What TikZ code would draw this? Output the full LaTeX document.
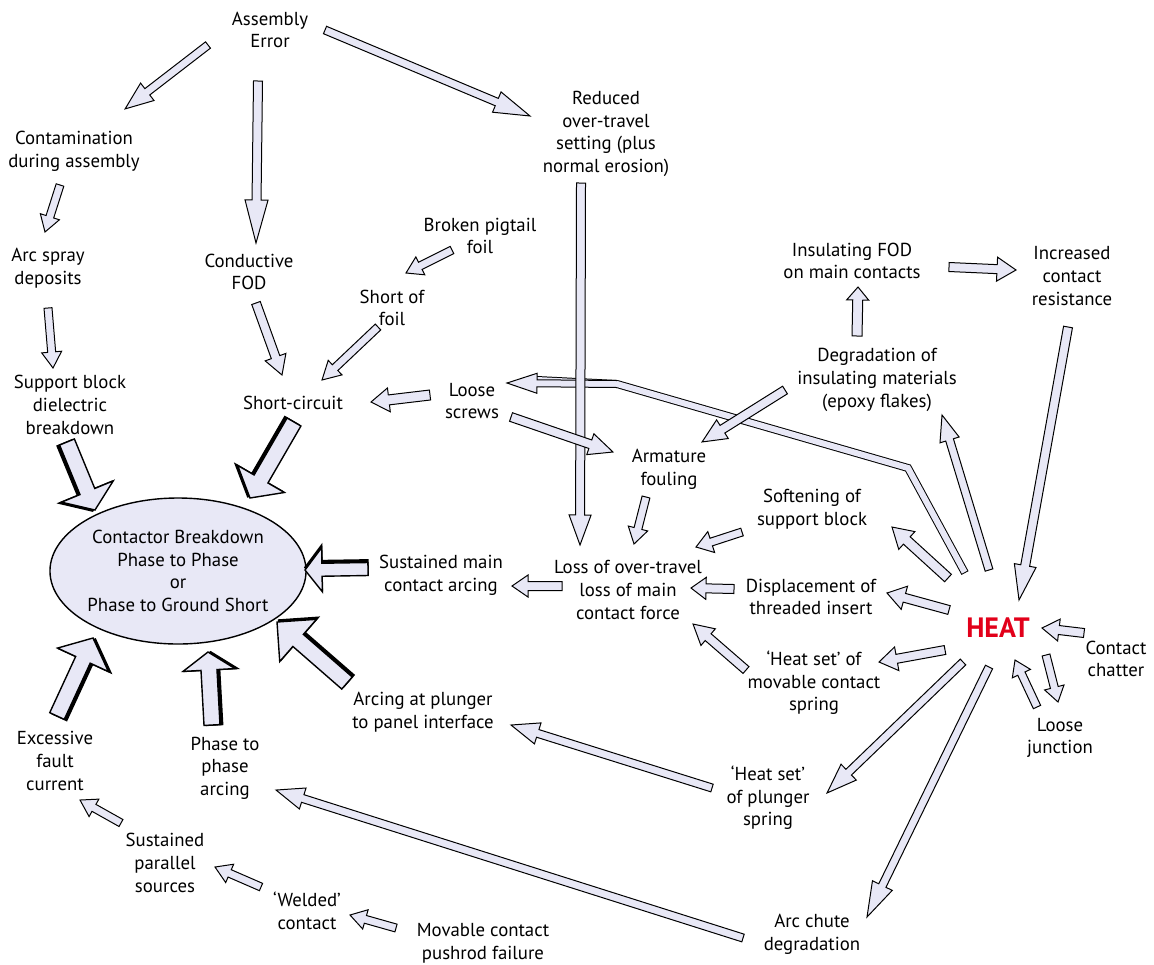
\documentclass[tikz,border=0pt]{standalone}
\usepackage{fontspec}
\setmainfont{PT Sans}
\usetikzlibrary{calc,shapes.geometric}

\definecolor{lav}{RGB}{232,232,246}
\definecolor{heatred}{RGB}{226,0,26}

% --- end points, angle and length of a block arrow ---
\newcommand\getends[2]{%
  \path #1; \pgfgetlastxy{\ax}{\ay}%
  \path #2; \pgfgetlastxy{\bx}{\by}%
  \pgfmathsetmacro\arrang{atan2(\by-\ay,\bx-\ax)}%
  \pgfmathsetmacro\arrlen{veclen(\bx-\ax,\by-\ay)}}

% --- block arrow: {shaft half width}{head half width}{head length}{from}{to} ---
\newcommand\fatarrow[5]{%
  \getends{#4}{#5}%
  \begin{scope}[shift={(\ax,\ay)}, rotate=\arrang]
    \draw[arrbody] (0pt,{#1*.5pt}) -- ({\arrlen pt-#3*.5pt},{#1*.5pt}) -- ({\arrlen pt-#3*.5pt},{#2*.5pt})
      -- (\arrlen pt,0pt) -- ({\arrlen pt-#3*.5pt},{-#2*.5pt}) -- ({\arrlen pt-#3*.5pt},{-#1*.5pt})
      -- (0pt,{-#1*.5pt}) -- cycle;
  \end{scope}}

% --- heavy block arrow with a dark edge on its right side ---
\newcommand\boldarrow[5]{%
  \getends{#4}{#5}%
  \begin{scope}[shift={(\ax,\ay)}, rotate=\arrang]
    \filldraw[black, line width=.8pt, yshift=-1.3pt] (0pt,{#1*.5pt}) -- ({\arrlen pt-#3*.5pt},{#1*.5pt}) -- ({\arrlen pt-#3*.5pt},{#2*.5pt})
      -- (\arrlen pt,0pt) -- ({\arrlen pt-#3*.5pt},{-#2*.5pt}) -- ({\arrlen pt-#3*.5pt},{-#1*.5pt})
      -- (0pt,{-#1*.5pt}) -- cycle;
    \draw[arrbody, line width=.7pt] (0pt,{#1*.5pt}) -- ({\arrlen pt-#3*.5pt},{#1*.5pt}) -- ({\arrlen pt-#3*.5pt},{#2*.5pt})
      -- (\arrlen pt,0pt) -- ({\arrlen pt-#3*.5pt},{-#2*.5pt}) -- ({\arrlen pt-#3*.5pt},{-#1*.5pt})
      -- (0pt,{-#1*.5pt}) -- cycle;
  \end{scope}}

% --- arrow head with an open back, ends a bent shaft ---
\newcommand\openhead[5]{%
  \getends{#4}{#5}%
  \begin{scope}[shift={(\ax,\ay)}, rotate=\arrang]
    \fill[lav] (0pt,{#1*.5pt}) -- ({\arrlen pt-#3*.5pt},{#1*.5pt}) -- ({\arrlen pt-#3*.5pt},{#2*.5pt})
      -- (\arrlen pt,0pt) -- ({\arrlen pt-#3*.5pt},{-#2*.5pt}) -- ({\arrlen pt-#3*.5pt},{-#1*.5pt})
      -- (0pt,{-#1*.5pt}) -- cycle;
    \draw[line width=.5pt] (0pt,{#1*.5pt}) -- ({\arrlen pt-#3*.5pt},{#1*.5pt}) -- ({\arrlen pt-#3*.5pt},{#2*.5pt})
      -- (\arrlen pt,0pt) -- ({\arrlen pt-#3*.5pt},{-#2*.5pt}) -- ({\arrlen pt-#3*.5pt},{-#1*.5pt})
      -- (0pt,{-#1*.5pt});
  \end{scope}}

\begin{document}
\begin{tikzpicture}[x=0.5pt, y=-0.5pt, line join=miter,
  lbl/.style={align=center, inner sep=0pt, font=\fontsize{9.4}{11.3}\selectfont},
  arrbody/.style={draw=black, fill=lav, line width=.5pt}]

\useasboundingbox (0,0) rectangle (1154,964);

% --- causes and effects ---
\node[lbl] (asm) at (270,30) {Assembly\\Error};
\node[lbl] (contam) at (74,151) {Contamination\\during assembly};
\node[lbl] (spray) at (48,268) {Arc spray\\deposits};
\node[lbl] (support) at (70,405) {Support block\\dielectric\\breakdown};
\node[lbl] (cfod) at (249,272) {Conductive\\FOD};
\node[lbl] (short) at (293,403) {Short-circuit};
\node[lbl] (pigtail) at (480,236) {Broken pigtail\\foil};
\node[lbl] (foil) at (392,308) {Short of\\foil};
\node[lbl] (reduced) at (606,134) {Reduced\\over-travel\\setting (plus\\normal erosion)};
\node[lbl] (ifod) at (852,261) {Insulating FOD\\on main contacts};
\node[lbl] (resist) at (1072,276) {Increased\\contact\\resistance};
\node[lbl] (degrad) at (877,380) {Degradation of\\insulating materials\\(epoxy flakes)};
\node[lbl] (screws) at (472,401) {Loose\\screws};
\node[lbl] (arm) at (669,469) {Armature\\fouling};
\node[lbl] (soft) at (812,509) {Softening of\\support block};
\node[lbl] (loss) at (628,590) {Loss of over-travel\\loss of main\\contact force};
\node[lbl] (displ) at (811,597) {Displacement of\\threaded insert};
\node[inner sep=0pt, font=\fontsize{14}{14}\selectfont\bfseries, text=heatred] (heat) at (998,628) {HEAT};
\node[lbl] (hsmov) at (814,683) {‘Heat set’ of\\movable contact\\spring};
\node[lbl] (chatter) at (1116,659) {Contact\\chatter};
\node[lbl] (junction) at (1060,738) {Loose\\junction};
\node[lbl, ellipse, draw, line width=.7pt, fill=lav, minimum width=117pt, minimum height=73pt] (main) at (178,571)
  {Contactor Breakdown\\Phase to Phase\\or\\Phase to Ground Short};
\node[lbl] (sustmain) at (441,575) {Sustained main\\contact arcing};
\node[lbl] (plunger) at (423,712) {Arcing at plunger\\to panel interface};
\node[lbl] (hsplg) at (768,798) {‘Heat set’\\of plunger\\spring};
\node[lbl] (chute) at (812,934) {Arc chute\\degradation};
\node[lbl] (excess) at (55,761) {Excessive\\fault\\current};
\node[lbl] (phase) at (225,768) {Phase to\\phase\\arcing};
\node[lbl] (parallel) at (165,863) {Sustained\\parallel\\sources};
\node[lbl] (welded) at (307,911) {‘Welded’\\contact};
\node[lbl] (pushrod) at (483,943) {Movable contact\\pushrod failure};

% --- bent arrow from HEAT to the loose screws ---
\coordinate (bendA) at (908,468);
\coordinate (bendB) at (617,384);
\coordinate (headB) at (537,380);
\draw[line width=4pt, line cap=butt] ($(heat)+(-33,-55)$) -- (bendA) -- (bendB) -- (headB);
\draw[lav, line width=3pt, line cap=butt, shorten <=.5pt] ($(heat)+(-33,-55)$) -- (bendA) -- (bendB) -- (headB);
\openhead{3.5}{10}{30}{(bendB)}{($(screws)+(35,-18)$)}

% --- assembly error ---
\fatarrow{4}{11}{28}{($(asm)+(-62,15)$)}{($(contam)+(51,-42)$)}
\fatarrow{4.5}{11.5}{43}{($(asm)+(-12,51)$)}{($(cfod)+(7,-29)$)}
\fatarrow{4}{11}{36}{($(asm)+(55,0)$)}{($(reduced)+(-76,-18)$)}
\fatarrow{4.5}{11}{30}{($(reduced)+(-25,49)$)}{($(loss)+(-48,-45)$)}

% --- left column ---
\fatarrow{4}{10}{16}{($(contam)+(-14,34)$)}{($(spray)+(-3,-36)$)}
\fatarrow{4}{10}{16}{($(spray)+(0,40)$)}{($(support)+(-17,-37)$)}

% --- short circuit ---
\fatarrow{4.5}{11}{19}{($(cfod)+(7,31)$)}{($(short)+(-11,-28)$)}
\fatarrow{4}{10}{18}{($(foil)+(-14,19)$)}{($(short)+(29,-23)$)}
\fatarrow{4}{10}{16}{($(pigtail)+(-28,14)$)}{($(foil)+(14,-35)$)}
\fatarrow{5}{12}{18}{($(screws)+(-42,-6)$)}{($(short)+(78,-1)$)}
\fatarrow{4.5}{11}{24}{($(screws)+(39,16)$)}{($(arm)+(-56,-17)$)}

% --- insulating materials ---
\fatarrow{4.5}{11}{24}{($(degrad)+(-92,10)$)}{($(arm)+(33,-27)$)}
\fatarrow{5}{11}{13}{($(degrad)+(-20,-44)$)}{($(ifod)+(6,26)$)}
\fatarrow{4.5}{12}{19}{($(ifod)+(97,6)$)}{($(resist)+(-56,-6)$)}
\fatarrow{4.5}{11}{35}{($(resist)+(-4,51)$)}{($(heat)+(21,-28)$)}

% --- loss of over-travel ---
\fatarrow{4}{10}{16}{($(arm)+(-23,28)$)}{($(loss)+(6,-46)$)}
\fatarrow{4}{11}{16}{($(soft)+(-70,23)$)}{($(loss)+(68,-43)$)}
\fatarrow{4.5}{11}{15}{($(displ)+(-77,-8)$)}{($(loss)+(63,-2)$)}
\fatarrow{4.5}{11}{20}{($(hsmov)+(-68,-13)$)}{($(loss)+(65,34)$)}
\fatarrow{4.5}{11}{16}{($(loss)+(-66,-4)$)}{($(sustmain)+(71,11)$)}

% --- heat ---
\fatarrow{4}{10}{26}{($(heat)+(-9,-58)$)}{($(degrad)+(65,35)$)}
\fatarrow{5}{12}{20}{($(heat)+(-50,-50)$)}{($(soft)+(80,18)$)}
\fatarrow{4.5}{12}{18}{($(heat)+(-49,-18)$)}{($(displ)+(76,-4)$)}
\fatarrow{4.5}{12}{18}{($(heat)+(-53,22)$)}{($(hsmov)+(65,-21)$)}
\fatarrow{4.5}{11}{17}{($(chatter)+(-32,-26)$)}{($(heat)+(44,0)$)}
\fatarrow{4}{10}{15}{($(junction)+(-23,-31)$)}{($(heat)+(17,32)$)}
\fatarrow{4}{10}{15}{($(heat)+(48,27)$)}{($(junction)+(-2,-36)$)}
\fatarrow{4}{11}{30}{($(heat)+(-35,34)$)}{($(hsplg)+(59,-5)$)}
\fatarrow{4}{11}{35}{($(heat)+(-9,39)$)}{($(chute)+(55,-17)$)}
\fatarrow{4}{11}{28}{($(hsplg)+(-56,-10)$)}{($(plunger)+(88,13)$)}
\fatarrow{4}{11}{28}{($(chute)+(-69,4)$)}{($(phase)+(51,22)$)}

% --- bottom left ---
\fatarrow{4}{10}{16}{($(parallel)+(-44,-40)$)}{($(excess)+(25,39)$)}
\fatarrow{4}{10}{16}{($(welded)+(-46,-24)$)}{($(parallel)+(50,4)$)}
\fatarrow{4}{10}{16}{($(pushrod)+(-87,-15)$)}{($(welded)+(43,4)$)}

% --- heavy arrows into the breakdown ---
\boldarrow{8}{28}{20}{($(support)+(-3,37)$)}{($(main)+(-83,-61)$)}
\boldarrow{8}{27}{22}{($(short)+(1,19)$)}{($(main)+(72,-73)$)}
\boldarrow{6.5}{22}{17}{($(sustmain)+(-73,-6)$)}{($(main)+(127,-1)$)}
\boldarrow{8}{28}{28}{($(plunger)+(-76,-29)$)}{($(main)+(99,51)$)}
\boldarrow{8}{26}{18}{($(phase)+(-13,-43)$)}{($(main)+(30,81)$)}
\boldarrow{8}{28}{24}{($(excess)+(2,-45)$)}{($(main)+(-85,67)$)}

\end{tikzpicture}
\end{document}
